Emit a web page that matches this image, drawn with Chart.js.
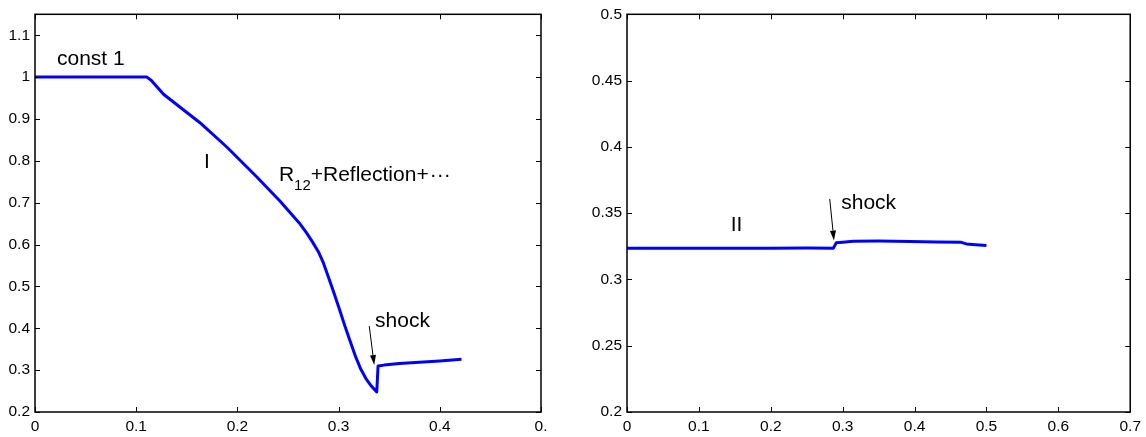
<!DOCTYPE html>
<html>
<head>
<meta charset="utf-8">
<script src="https://cdn.jsdelivr.net/npm/chart.js@4.4.0/dist/chart.umd.min.js"></script>
<style>
  html, body { margin: 0; padding: 0; background: #fff; }
  #wrap { position: relative; width: 1146px; height: 437px; }
  canvas { position: absolute; top: 0; }
  #left { left: 0; }
  #right { left: 573px; }
</style>
</head>
<body>
<div id="wrap">
  <canvas id="left" width="573" height="437"></canvas>
  <canvas id="right" width="573" height="437"></canvas>
</div>
<script>
// left panel (region I)
const leftX = [0, 0.05, 0.1106, 0.115, 0.120, 0.127, 0.145, 0.163, 0.1895, 0.219, 0.242, 0.262, 0.268, 0.274,
  0.280, 0.285, 0.290, 0.295, 0.301, 0.306, 0.311, 0.317, 0.322, 0.327, 0.332, 0.3377, 0.339, 0.345, 0.36,
  0.38, 0.40, 0.4215];
const leftY = [1, 1, 1, 0.992, 0.978, 0.959, 0.925, 0.891, 0.833, 0.762, 0.704, 0.649, 0.629, 0.607,
  0.583, 0.556, 0.522, 0.487, 0.444, 0.407, 0.372, 0.331, 0.302, 0.280, 0.263, 0.248, 0.310, 0.312, 0.316,
  0.319, 0.322, 0.326];
const leftXTicks = [0, 0.1, 0.2, 0.3, 0.4, 0.5];
const leftXLabels = ['0', '0.1', '0.2', '0.3', '0.4', '0.'];
const leftYTicks = [0.2, 0.3, 0.4, 0.5, 0.6, 0.7, 0.8, 0.9, 1, 1.1];
const leftYLabels = ['0.2', '0.3', '0.4', '0.5', '0.6', '0.7', '0.8', '0.9', '1', '1.1'];

// right panel (region II)
const rightX = [0, 0.1, 0.2, 0.25, 0.287, 0.289, 0.291, 0.30, 0.315, 0.35, 0.394, 0.43, 0.465, 0.472, 0.485, 0.50];
const rightY = [0.3235, 0.3235, 0.3235, 0.3237, 0.3235, 0.3255, 0.3276, 0.328, 0.3288, 0.3289, 0.3287, 0.3283,
  0.328, 0.3268, 0.3262, 0.3256];
const rightXTicks = [0, 0.1, 0.2, 0.3, 0.4, 0.5, 0.6, 0.7];
const rightXLabels = ['0', '0.1', '0.2', '0.3', '0.4', '0.5', '0.6', '0.7'];
const rightYTicks = [0.2, 0.25, 0.3, 0.35, 0.4, 0.45, 0.5];
const rightYLabels = ['0.2', '0.25', '0.3', '0.35', '0.4', '0.45', '0.5'];

// text notes and arrows, in data units
const leftNotes = [
  { x: 0.0217, y: 1.030, parts: [['const 1']] },
  { x: 0.167, y: 0.784, parts: [['I']] },
  { x: 0.241, y: 0.752, parts: [['R'], ['12', 'sub'], ['+Reflection+'], ['\u00B7\u00B7\u00B7', 'dots']] },
  { x: 0.336, y: 0.403, parts: [['shock']] }
];
const leftArrows = [{ x1: 0.3303, y1: 0.405, x2: 0.3352, y2: 0.312 }];
const rightNotes = [
  { x: 0.1442, y: 0.3368, parts: [['II']] },
  { x: 0.298, y: 0.3532, parts: [['shock']] }
];
const rightArrows = [{ x1: 0.282, y1: 0.3607, x2: 0.2879, y2: 0.3293 }];

const FONT = "'Liberation Sans', Helvetica, Arial, sans-serif";

// matlab-like box with inward ticks, plus the notes
const framePlugin = {
  id: 'frame',
  afterDraw( chart, args, opts ) {
    const ctx = chart.ctx;
    const a = chart.chartArea;
    const xs = chart.scales.x;
    const ys = chart.scales.y;

    ctx.save();
    ctx.strokeStyle = '#000';
    ctx.lineWidth = 1;
    ctx.beginPath();
    xs.ticks.forEach( function ( t ) {
      const px = Math.round( xs.getPixelForValue( t.value ) ) + 0.5;
      ctx.moveTo( px, a.bottom ); ctx.lineTo( px, a.bottom - 5 );
      ctx.moveTo( px, a.top ); ctx.lineTo( px, a.top + 5 );
    } );
    ys.ticks.forEach( function ( t ) {
      const py = Math.round( ys.getPixelForValue( t.value ) ) + 0.5;
      ctx.moveTo( a.left, py ); ctx.lineTo( a.left + 5, py );
      ctx.moveTo( a.right, py ); ctx.lineTo( a.right - 5, py );
    } );
    ctx.stroke();

    ctx.lineWidth = 1.5;
    ctx.strokeRect( a.left, a.top, a.right - a.left, a.bottom - a.top );

    // notes
    ctx.fillStyle = '#000';
    ctx.textBaseline = 'alphabetic';
    ctx.textAlign = 'left';
    ( opts.notes || [] ).forEach( function ( n ) {
      let px = xs.getPixelForValue( n.x );
      const py = ys.getPixelForValue( n.y );
      n.parts.forEach( function ( p ) {
        if ( p[1] === 'dots' ) {
          // spaced centred dots, like \cdots
          ctx.font = '21px ' + FONT;
          for ( let i = 0; i < p[0].length; i++ ) {
            ctx.fillText( p[0][i], px + 1, py );
            px += 7;
          }
          return;
        }
        const sub = p[1] === 'sub';
        ctx.font = ( sub ? '15px ' : '21px ' ) + FONT;
        ctx.fillText( p[0], px, py + ( sub ? 9 : 0 ) );
        px += ctx.measureText( p[0] ).width;
      } );
    } );

    // arrows
    ctx.lineWidth = 1;
    ( opts.arrows || [] ).forEach( function ( r ) {
      const x1 = xs.getPixelForValue( r.x1 ), y1 = ys.getPixelForValue( r.y1 );
      const x2 = xs.getPixelForValue( r.x2 ), y2 = ys.getPixelForValue( r.y2 );
      const ang = Math.atan2( y2 - y1, x2 - x1 );
      const len = 10, w = 3;
      const bx = x2 - len * Math.cos( ang ), by = y2 - len * Math.sin( ang );
      ctx.beginPath();
      ctx.moveTo( x1, y1 ); ctx.lineTo( bx, by );
      ctx.stroke();
      ctx.beginPath();
      ctx.moveTo( x2, y2 );
      ctx.lineTo( bx + w * Math.sin( ang ), by - w * Math.cos( ang ) );
      ctx.lineTo( bx - w * Math.sin( ang ), by + w * Math.cos( ang ) );
      ctx.closePath();
      ctx.fill();
    } );
    ctx.restore();
  }
};

function makeChart( id, xs, ys, xr, yr, xTicks, xLabels, yTicks, yLabels, yWidth, padRight, notes, arrows ) {
  const pts = xs.map( function ( v, i ) { return { x: v, y: ys[i] }; } );
  const tickFont = { family: FONT, size: 15.5 };

  return new Chart( document.getElementById( id ).getContext( '2d' ), {
    type: 'scatter',
    data: {
      datasets: [{
        data: pts,
        showLine: true,
        borderColor: '#0000ff',
        borderWidth: 3,
        borderJoinStyle: 'round',
        pointRadius: 0,
        tension: 0
      }]
    },
    options: {
      responsive: false,
      animation: false,
      events: [],
      layout: { padding: { left: 0, right: padRight, top: 13, bottom: 0 } },
      plugins: {
        legend: { display: false },
        tooltip: { enabled: false },
        frame: { notes: notes, arrows: arrows }
      },
      scales: {
        x: {
          type: 'linear',
          min: xr[0],
          max: xr[1],
          grid: { display: false, drawTicks: false },
          border: { display: false },
          afterBuildTicks: function ( s ) { s.ticks = xTicks.map( function ( v ) { return { value: v }; } ); },
          afterFit: function ( s ) { s.height = 25; },
          ticks: {
            color: '#000',
            font: tickFont,
            padding: 5,
            maxRotation: 0,
            autoSkip: false,
            callback: function ( v, i ) { return xLabels[i]; }
          }
        },
        y: {
          type: 'linear',
          min: yr[0],
          max: yr[1],
          grid: { display: false, drawTicks: false },
          border: { display: false },
          afterBuildTicks: function ( s ) { s.ticks = yTicks.map( function ( v ) { return { value: v }; } ); },
          afterFit: function ( s ) { s.width = yWidth; },
          ticks: {
            color: '#000',
            font: tickFont,
            padding: 5,
            autoSkip: false,
            callback: function ( v, i ) { return yLabels[i]; }
          }
        }
      }
    },
    plugins: [framePlugin]
  } );
}

makeChart( 'left', leftX, leftY, [0, 0.5], [0.2, 1.15], leftXTicks, leftXLabels, leftYTicks, leftYLabels,
  35, 32, leftNotes, leftArrows );
makeChart( 'right', rightX, rightY, [0, 0.7], [0.2, 0.5], rightXTicks, rightXLabels, rightYTicks, rightYLabels,
  54, 11, rightNotes, rightArrows );
</script>
</body>
</html>
